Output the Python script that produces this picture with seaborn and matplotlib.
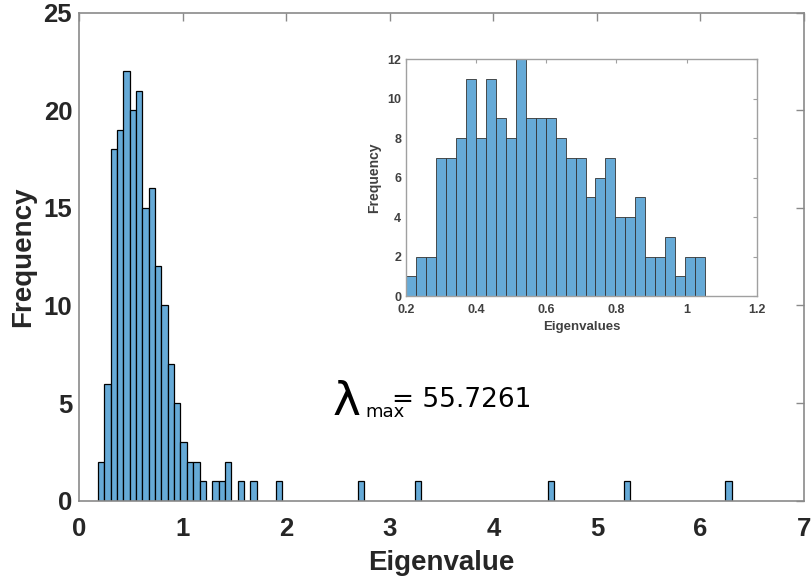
import numpy as np
import pandas as pd
import seaborn as sns
import matplotlib.pyplot as plt

# ---- data ----
# main histogram: counts of consecutive bins starting at main_bin_start
main_bin_start = 0.183
main_bin_width = 0.0612
main_n_bins = 100
core_counts = [2, 6, 18, 19, 22, 20, 21, 15, 16, 12, 10, 7, 5, 3, 2, 2, 1, 0,
               1, 1, 2, 0, 1, 0, 1, 0, 0, 0, 1]
tail_values = [2.73, 3.28, 4.56, 5.30, 6.27]   # isolated eigenvalues (1 each)
main_xticks = [0, 1, 2, 3, 4, 5, 6, 7]
main_yticks = [0, 5, 10, 15, 20, 25]

# inset histogram
inset_bin_start = 0.2
inset_bin_width = 0.02843
inset_counts = [1, 2, 2, 7, 7, 8, 11, 8, 11, 9, 8, 12, 9, 9, 9, 8, 7, 7, 5, 6,
                7, 4, 4, 5, 2, 2, 3, 1, 2, 2]
inset_xticks = [0.2, 0.4, 0.6, 0.8, 1.0, 1.2]
inset_xticklabels = ["0.2", "0.4", "0.6", "0.8", "1", "1.2"]
inset_yticks = [0, 2, 4, 6, 8, 10, 12]

lambda_max = 55.7261

# ---- build tables ----
main_edges = (main_bin_start + main_bin_width * np.arange(main_n_bins + 1)).tolist()
core_centers = [main_edges[i] + main_bin_width / 2 for i in range(len(core_counts))]
main_df = pd.DataFrame({
    "Eigenvalue": core_centers + list(tail_values),
    "w": list(core_counts) + [1] * len(tail_values),
})
inset_edges = (inset_bin_start + inset_bin_width * np.arange(len(inset_counts) + 1)).tolist()
inset_df = pd.DataFrame({
    "Eigenvalue": [e + inset_bin_width / 2 for e in inset_edges[:-1]],
    "w": inset_counts,
})

sns.set_style("white")
plt.rcParams["font.family"] = ["Liberation Sans", "DejaVu Sans"]

bar_color = "#66AAD7"
spine_color = "#8a8a8a"
text_color = "#262626"

fig = plt.figure(figsize=(8.12, 5.82), dpi=100)

# ---- main axes ----
ax = fig.add_axes([0.0975, 0.1397, 0.8926, 0.8385])
sns.histplot(data=main_df, x="Eigenvalue", weights="w", bins=main_edges, ax=ax,
             color=bar_color, edgecolor="black", linewidth=0.9, alpha=1)
for p in list(ax.patches):
    if p.get_height() == 0:
        p.remove()
ax.set_xlim(0, 7)
ax.set_ylim(0, 25)
ax.set_xticks(main_xticks)
ax.set_yticks(main_yticks)
ax.set_xlabel("Eigenvalue", fontsize=20, fontweight="bold", color=text_color, labelpad=6)
ax.set_ylabel("Frequency", fontsize=20, fontweight="bold", color=text_color, labelpad=5)
ax.tick_params(direction="in", length=6, width=1, colors=spine_color,
               labelcolor=text_color, labelsize=18.5, top=True, right=True, pad=5)
ax.tick_params(axis="x", pad=12)
for lab in ax.get_xticklabels() + ax.get_yticklabels():
    lab.set_fontweight("bold")
for s in ax.spines.values():
    s.set_color(spine_color)
    s.set_linewidth(1.2)

# ---- inset axes ----
axi = fig.add_axes([0.5, 0.4914, 0.432, 0.407])
sns.histplot(data=inset_df, x="Eigenvalue", weights="w", bins=inset_edges, ax=axi,
             color=bar_color, edgecolor="#333333", linewidth=0.6, alpha=1)
axi.set_xlim(0.2, 1.2)
axi.set_ylim(0, 12)
axi.set_xticks(inset_xticks)
axi.set_xticklabels(inset_xticklabels)
axi.set_yticks(inset_yticks)
axi.set_xlabel("Eigenvalues", fontsize=9.5, fontweight="bold", color="#404040", labelpad=3)
axi.set_ylabel("Frequency", fontsize=10, fontweight="bold", color="#404040", labelpad=4)
axi.tick_params(direction="in", length=3, width=0.8, colors="#a0a0a0",
                labelcolor="#404040", labelsize=9, top=True, right=True, pad=3.5)
axi.tick_params(axis="x", pad=6)
for lab in axi.get_xticklabels() + axi.get_yticklabels():
    lab.set_fontweight("bold")
for s in axi.spines.values():
    s.set_color("#a0a0a0")
    s.set_linewidth(1.0)

# ---- lambda max annotation ----
W, H = 812, 582
fig.text(333 / W, 1 - 415 / H, "λ", fontsize=34, family="DejaVu Sans",
         color="black", va="baseline", ha="left")
fig.text(365 / W, 1 - 417 / H, "max", fontsize=13, family="DejaVu Sans",
         color="black", va="baseline", ha="left")
fig.text(392 / W, 1 - 407 / H, f"= {lambda_max:.4f}", fontsize=19,
         family="DejaVu Sans", color="black", va="baseline", ha="left")

fig.savefig("out.png", dpi=100)
